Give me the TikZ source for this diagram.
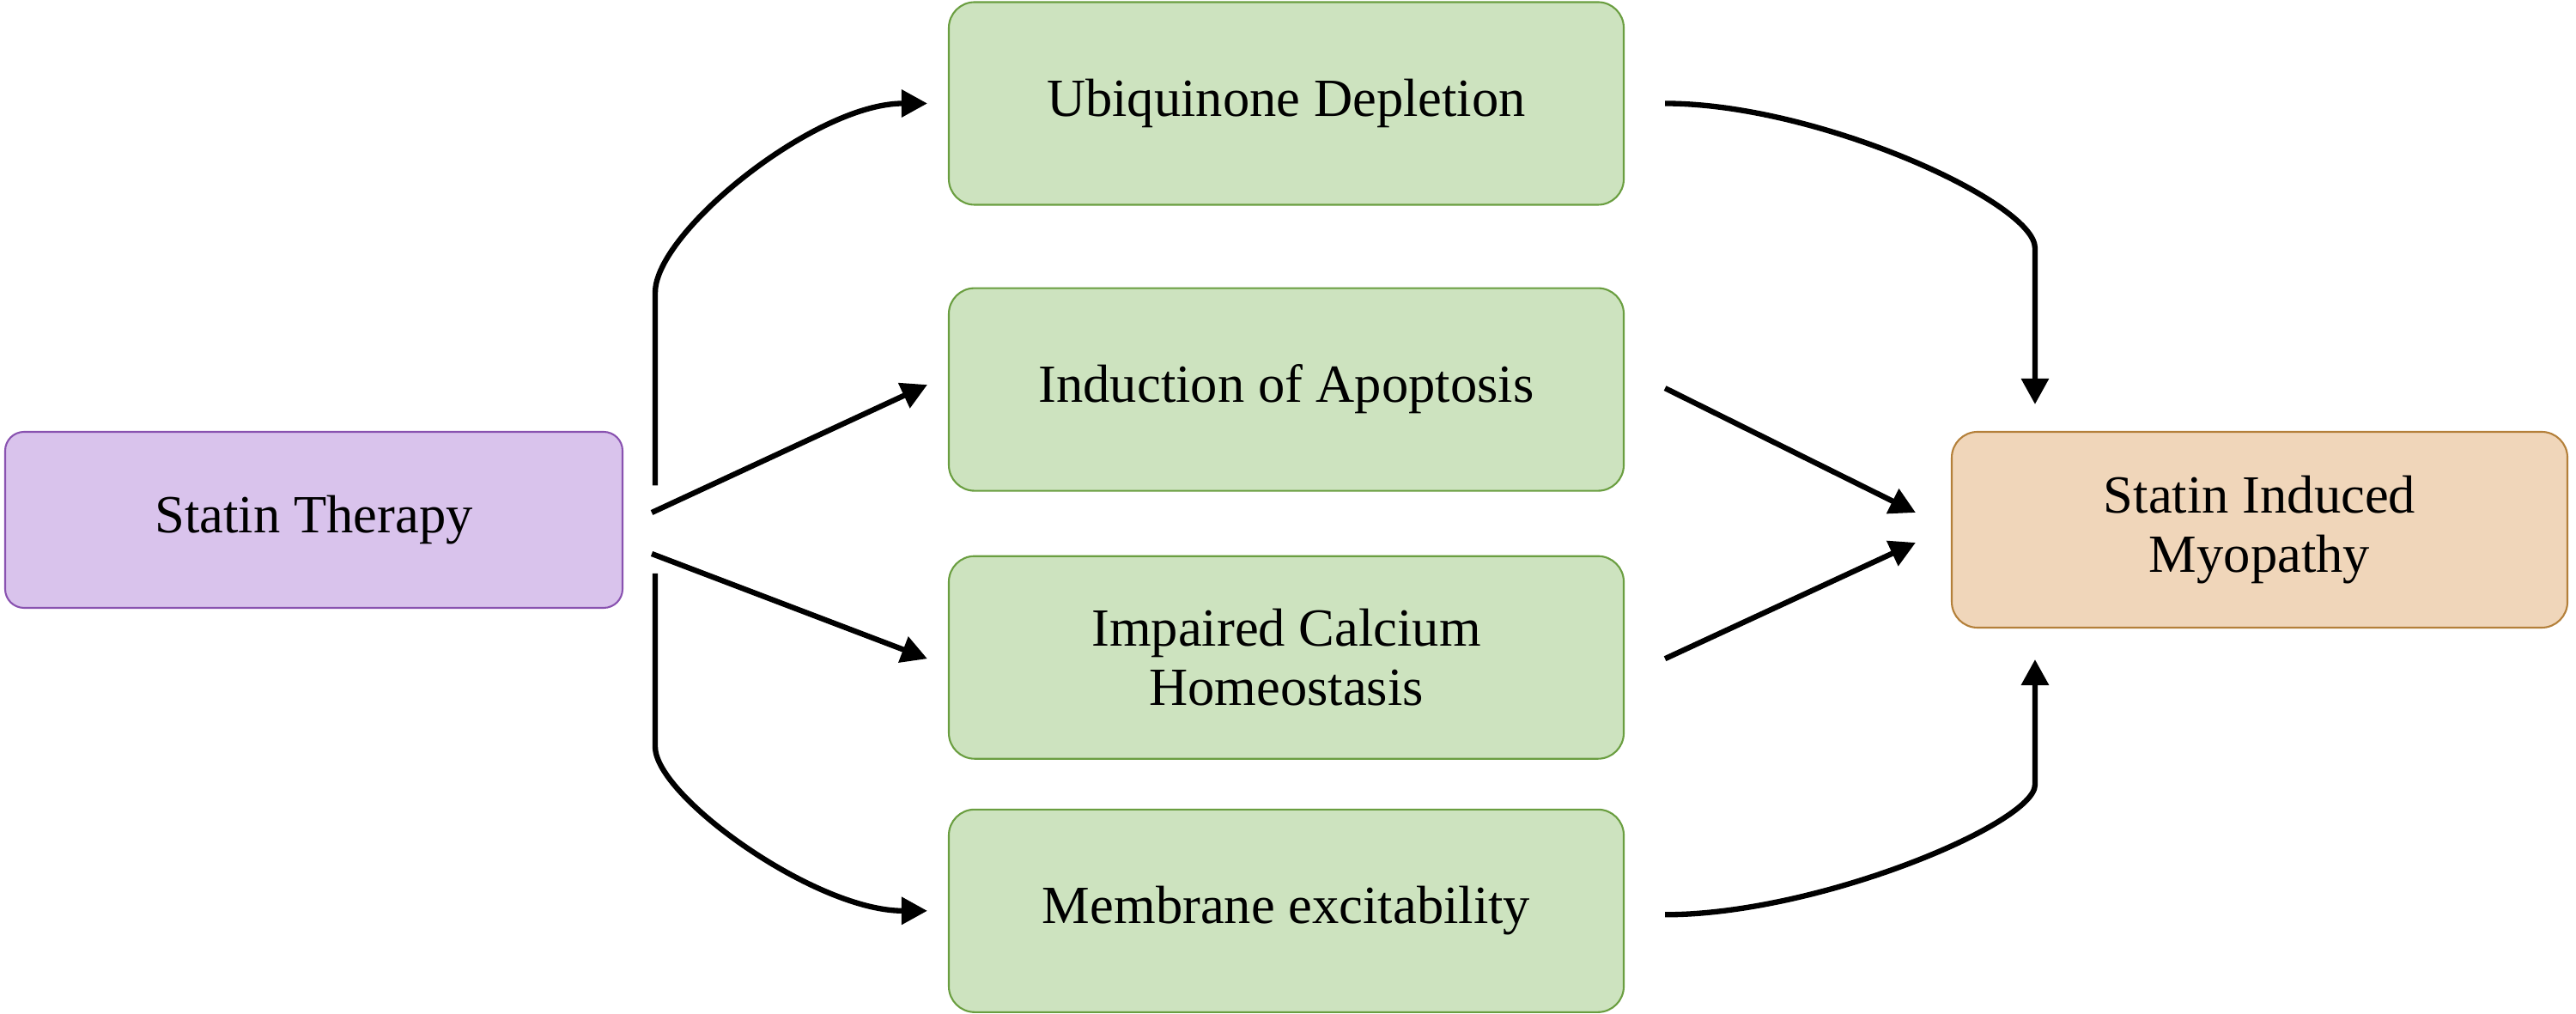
\documentclass[tikz,border=0pt]{standalone}
\usepackage{fontspec}
\setmainfont{Liberation Serif}
\usetikzlibrary{arrows.meta, positioning, calc}
\definecolor{statinfill}{RGB}{217,195,236}
\definecolor{statindraw}{RGB}{137,82,176}
\definecolor{effectfill}{RGB}{205,227,191}
\definecolor{effectdraw}{RGB}{106,158,64}
\definecolor{outfill}{RGB}{240,214,186}
\definecolor{outdraw}{RGB}{180,128,58}

\begin{document}
\begin{tikzpicture}[
    box/.style={rectangle, rounded corners=0.3cm, line width=0.6pt, inner sep=0pt, align=center,
                font=\fontsize{17.8}{19.6}\selectfont},
    srcbox/.style={box, draw=statindraw, fill=statinfill, minimum width=7.19cm, minimum height=2.05cm,
                   rounded corners=0.22cm},
    effectbox/.style={box, draw=effectdraw, fill=effectfill, minimum width=7.86cm, minimum height=2.36cm},
    outbox/.style={box, draw=outdraw, fill=outfill, minimum width=7.17cm, minimum height=2.28cm},
    arrow/.style={-{Triangle[length=0.3cm, width=0.31cm]}, line width=1.8pt, black}
]
    \useasboundingbox (0,0) rectangle (30,11.81);

    \node[srcbox] (statin) at (3.655,5.755) {Statin Therapy};
    \node[effectbox] (ubi) at (14.98,10.605) {Ubiquinone Depletion};
    \node[effectbox, below=0.95cm of ubi] (apo) {Induction of Apoptosis};
    \node[effectbox, below=0.74cm of apo] (calcium) {Impaired Calcium\\Homeostasis};
    \node[effectbox, below=0.57cm of calcium] (mem) {Membrane excitability};
    \node[outbox] (myo) at (26.315,5.64) {Statin Induced\\Myopathy};

    % statin to the four effects
    \draw[arrow] ([shift={(0.37,0.40)}]statin.east) -- ([shift={(0.37,2.65)}]statin.east)
        .. controls ([shift={(0.37,3.35)}]statin.east) and ([xshift=-1.55cm]ubi.west) .. ([xshift=-0.24cm]ubi.west);
    \draw[arrow] ([shift={(0.33,0.085)}]statin.east) -- ([shift={(-0.24,0.055)}]apo.west);
    \draw[arrow] ([shift={(0.33,-0.395)}]statin.east) -- ([shift={(-0.24,-0.015)}]calcium.west);
    \draw[arrow] ([shift={(0.37,-0.625)}]statin.east) -- ([shift={(0.37,-2.645)}]statin.east)
        .. controls ([shift={(0.37,-3.215)}]statin.east) and ([xshift=-1.55cm]mem.west) .. ([xshift=-0.24cm]mem.west);

    % effects to myopathy
    \draw[arrow] ([xshift=0.47cm]ubi.east)
        .. controls ([xshift=2.25cm]ubi.east) and ([shift={(0.98,2.66)}]myo.north west) .. ([shift={(0.98,2.13)}]myo.north west)
        -- ([shift={(0.98,0.31)}]myo.north west);
    \draw[arrow] ([shift={(0.47,0.015)}]apo.east) -- ([shift={(-0.41,0.20)}]myo.west);
    \draw[arrow] ([shift={(0.47,-0.015)}]calcium.east) -- ([shift={(-0.41,-0.15)}]myo.west);
    \draw[arrow] ([shift={(0.47,-0.045)}]mem.east)
        .. controls ([shift={(2.25,-0.045)}]mem.east) and ([shift={(0.98,-2.27)}]myo.south west) .. ([shift={(0.98,-1.82)}]myo.south west)
        -- ([shift={(0.98,-0.36)}]myo.south west);
\end{tikzpicture}
\end{document}
